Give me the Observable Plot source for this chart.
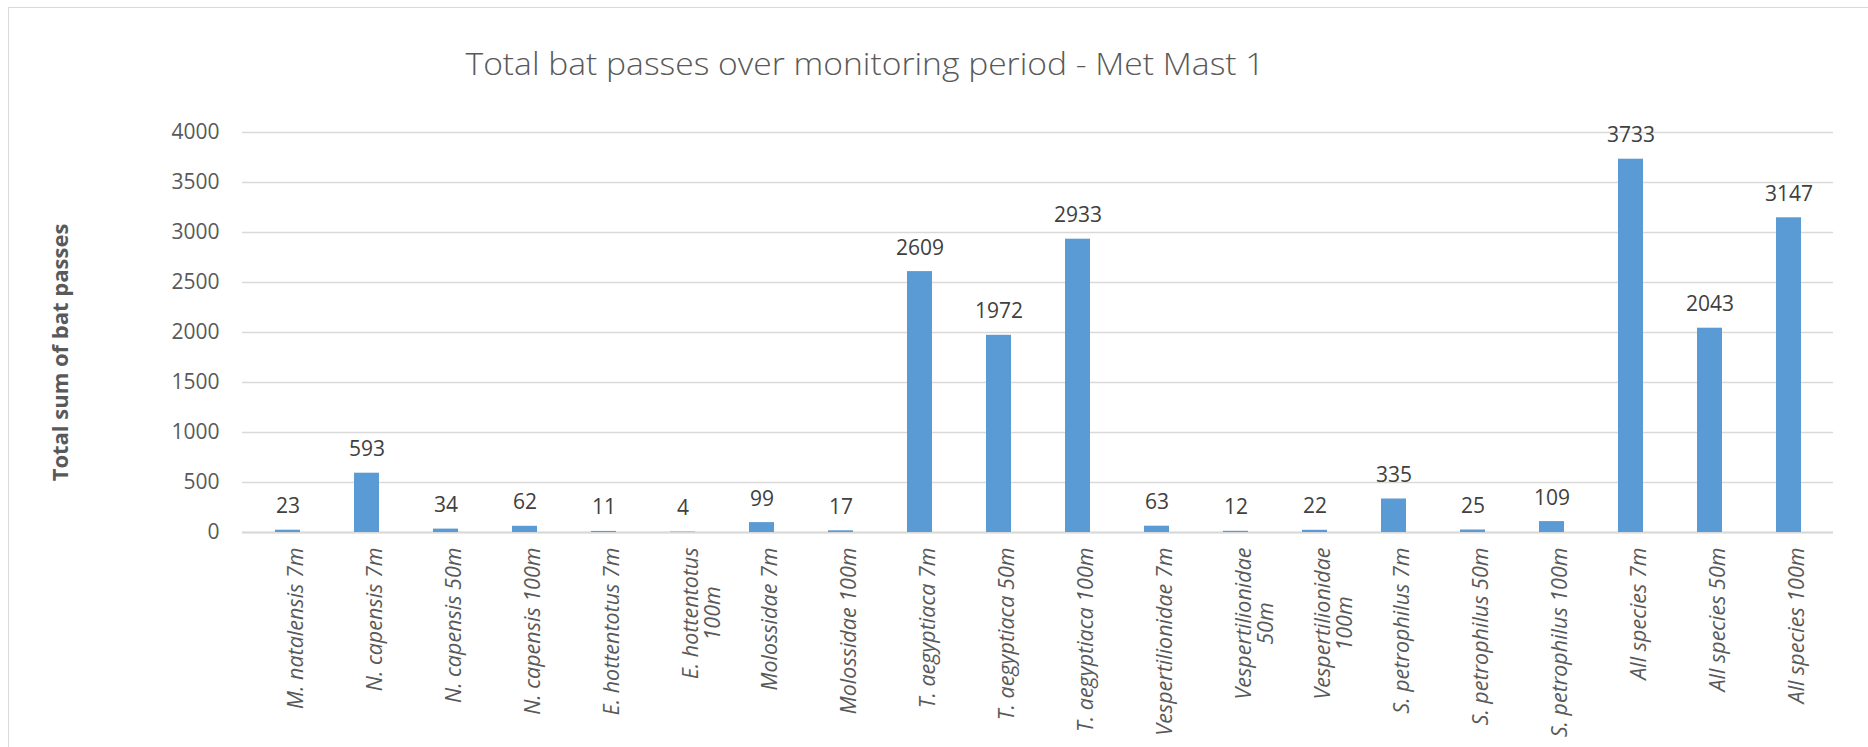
<!DOCTYPE html>
<html>
<head>
<meta charset="utf-8">
<script src="https://cdn.jsdelivr.net/npm/d3@7"></script>
<script src="https://cdn.jsdelivr.net/npm/@observablehq/plot@0.6"></script>
<style>
  html, body { margin: 0; padding: 0; background: #fff; }
  body { font-family: "Open Sans", sans-serif; }
  #wrap { position: relative; width: 1868px; height: 747px; overflow: hidden; background: #fff; }
  #frame { position: absolute; left: 8px; top: 7px; width: 2200px; height: 1200px;
           border: 1.5px solid #d9d9d9; box-sizing: border-box; pointer-events: none; }
  #head { position: relative; height: 100px; }
  #title { position: absolute; left: 865px; top: 41px; white-space: nowrap;
           font-family: "Open Sans", sans-serif; font-weight: 300; font-size: 32px;
           line-height: 1.362; color: #595959; transform-origin: center center; }
  #chart svg { display: block; }
</style>
</head>
<body>
<div id="wrap">
  <div id="frame"></div>
  <div id="head"><div id="title">Total bat passes over monitoring period - Met Mast 1</div></div>
  <div id="chart"></div>
</div>
<script>
// ---- data ----
const categories = [
  "M. natalensis 7m", "N. capensis 7m", "N. capensis 50m", "N. capensis 100m",
  "E. hottentotus 7m", "E. hottentotus\n100m", "Molossidae 7m", "Molossidae 100m",
  "T. aegyptiaca 7m", "T. aegyptiaca 50m", "T. aegyptiaca 100m",
  "Vespertilionidae 7m", "Vespertilionidae\n50m", "Vespertilionidae\n100m",
  "S. petrophilus 7m", "S. petrophilus 50m", "S. petrophilus 100m",
  "All species 7m", "All species 50m", "All species 100m"
];
const values = [23, 593, 34, 62, 11, 4, 99, 17, 2609, 1972, 2933, 63, 12, 22, 335, 25, 109, 3733, 2043, 3147];
const yTicks = [0, 500, 1000, 1500, 2000, 2500, 3000, 3500, 4000];
const yTitle = "Total sum of bat passes";

const rows = categories.map((c, i) => ({category: c, value: values[i]}));

const chart = Plot.plot({
  width: 1868,
  height: 647,
  marginTop: 32,
  marginBottom: 215,
  marginLeft: 242,
  marginRight: 35,
  style: {fontFamily: '"Open Sans", sans-serif', background: "white", overflow: "visible"},
  x: {domain: categories, paddingInner: 0.686, paddingOuter: 0.343},
  y: {domain: [0, 4000]},
  marks: [
    Plot.gridY(yTicks, {stroke: "#d9d9d9", strokeOpacity: 1, strokeWidth: 1.3}),
    Plot.ruleY([0], {stroke: "#d9d9d9", strokeWidth: 1.8}),
    Plot.barY(rows, {x: "category", y: "value", fill: "#5b9bd5"}),
    Plot.text(rows, {x: "category", y: "value", text: d => String(d.value),
      lineAnchor: "bottom", dy: -17, fontSize: 21, fill: "#404040"}),
    Plot.axisY(yTicks, {tickSize: 0, tickPadding: 23, fontSize: 21, fill: "#595959",
      label: null, tickFormat: d => String(d)}),
    Plot.axisX({tickSize: 0, tickPadding: 15, rotate: -90, textAnchor: "end", fontSize: 21.5,
      fontStyle: "italic", fill: "#595959", label: null}),
    Plot.text([yTitle], {frameAnchor: "left", textAnchor: "middle", dx: -182, dy: 20, rotate: -90,
      fontWeight: "bold", fontSize: 22, fill: "#595959"})
  ]
});

document.getElementById("chart").append(chart);

function adjust() {
  // centre the second line of two-line category labels on the first line (as in the original)
  chart.querySelectorAll('g[aria-label="x-axis tick label"] text').forEach(t => {
    const ts = t.querySelectorAll("tspan");
    if (ts.length > 1) {
      const L = ts[0].getComputedTextLength();
      t.setAttribute("text-anchor", "middle");
      ts.forEach(s => s.setAttribute("x", -L / 2));
    }
  });
  // fit the title to the original's width
  const title = document.getElementById("title");
  title.style.transform = "none";
  const w = title.getBoundingClientRect().width;
  const k = 799 / w;
  title.style.transform = `translateX(-50%) scaleX(${k})`;
}
adjust();
if (document.fonts && document.fonts.ready) document.fonts.ready.then(adjust);
</script>
</body>
</html>
